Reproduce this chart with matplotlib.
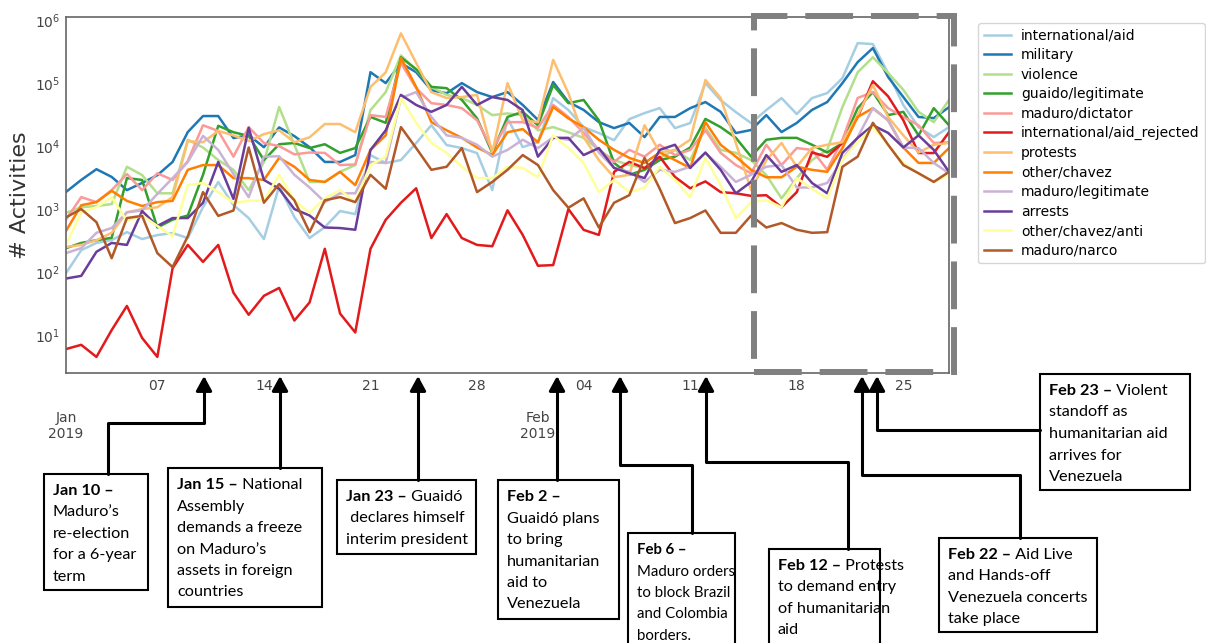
import matplotlib

matplotlib.use("Agg")
import matplotlib.dates as mdates
import matplotlib.pyplot as plt
import matplotlib.ticker as mticker
import pandas as pd
from matplotlib.patches import FancyArrowPatch, Rectangle
from matplotlib.path import Path

W, H = 1206, 643
NOTE_FONT = "Lato"

dates = pd.date_range("2019-01-01", "2019-02-28", freq="D")

# daily activity counts per topic
international_aid = [96, 223, 290, 322, 431, 334, 387, 416, 347, 1076,
                     2690, 1157, 720, 334, 2320, 746, 347, 517, 930, 833,
                     7200, 5370, 6000, 11170, 21500, 10400, 9300, 7740, 2000, 27800,
                     9640, 11570, 57800, 37300, 20000, 16100, 12400, 26800, 33400, 40100,
                     19300, 23200, 100000, 53700, 34600, 23200, 37300, 57800, 32200, 57800,
                     69400, 120000, 431000, 416000, 144000, 44800, 20000, 13900, 20000]
military = [1870, 2900, 4300, 3240, 2000, 2600, 3450, 5600, 16700, 30000,
            30000, 13400, 14900, 9600, 19800, 14400, 9600, 5600, 5600, 7200,
            149000, 100000, 208000, 149000, 77000, 69000, 100000, 72000, 60000, 72000,
            45000, 26000, 104000, 50000, 37500, 24000, 19300, 23300, 13900, 29000,
            29000, 40000, 50000, 35000, 16100, 18000, 31000, 16700, 23300, 37500,
            50000, 100000, 215000, 360000, 125000, 60000, 29000, 27800, 41500]
violence = [870, 1070, 1120, 1200, 4700, 3470, 1780, 1780, 12600, 9500,
            6000, 4200, 2000, 5600, 41700, 10500, 2700, 2700, 3900, 5000,
            37200, 72000, 275000, 162000, 87000, 65000, 58000, 45000, 31000, 33000,
            31000, 17800, 20000, 16600, 13500, 8700, 6000, 5000, 4500, 6500,
            8700, 6000, 19500, 8700, 7800, 6000, 3470, 1480, 3100, 6000,
            8700, 41700, 148000, 257000, 145000, 78000, 35000, 24000, 54000]
guaido_legitimate = [240, 290, 320, 350, 3100, 2900, 510, 680, 790, 3500,
                     21000, 16600, 14500, 6000, 10700, 11200, 9300, 10700, 7800, 9300,
                     29000, 23400, 257000, 166000, 87000, 83000, 54000, 27500, 7800, 29000,
                     35000, 21400, 93000, 48000, 54000, 25700, 5400, 3500, 4200, 6000,
                     6800, 9500, 27000, 20000, 13500, 6800, 12600, 13500, 13500, 10500,
                     7900, 11200, 40000, 72000, 31000, 35000, 14800, 40000, 21400]
maduro_dictator = [680, 1550, 1290, 2000, 3600, 2000, 3700, 2900, 5800, 21400,
                   17400, 6800, 20000, 11200, 10000, 7400, 7900, 7800, 5000, 5100,
                   31000, 29000, 209000, 83000, 48000, 45000, 40000, 25700, 8700, 24000,
                   24000, 19500, 45000, 29000, 16200, 8700, 5600, 8700, 6800, 10500,
                   7200, 8700, 17800, 7800, 5000, 3700, 10500, 5000, 9300, 8700,
                   4200, 12600, 58000, 72000, 40000, 29000, 21400, 11200, 11500]
aid_rejected = [6, 7, 4.5, 12, 29, 9, 4.5, 115, 270, 145,
                270, 47, 21, 42, 56, 17, 33, 234, 22, 11,
                234, 676, 1260, 2140, 347, 832, 347, 270, 257, 955,
                389, 126, 129, 1000, 468, 389, 3890, 5620, 4470, 6760,
                3240, 2140, 2750, 1860, 1780, 1620, 1660, 1070, 1860, 7940,
                6760, 11200, 28800, 107000, 61700, 25700, 7760, 7760, 16600]
protests = [250, 270, 320, 420, 890, 1000, 1070, 1550, 12000, 11500,
            17400, 14800, 12000, 15500, 17800, 11500, 13800, 22400, 22400, 16600,
            87000, 148000, 617000, 209000, 72000, 58000, 60000, 65000, 7900, 100000,
            25700, 24000, 234000, 69000, 13800, 6000, 3200, 3500, 21400, 7900,
            8700, 12600, 112000, 58000, 11200, 2000, 6000, 11200, 4700, 9300,
            10500, 11500, 31000, 93000, 29000, 14800, 7900, 10500, 11200]
other_chavez = [450, 1150, 1290, 1950, 1350, 1120, 1290, 1350, 4200, 5000,
                5000, 3100, 3100, 2900, 6500, 4700, 2900, 2700, 3900, 2400,
                8700, 14800, 251000, 87000, 24000, 17800, 13500, 9500, 7200, 16600,
                18600, 11500, 41700, 27500, 20000, 12600, 8700, 6500, 5400, 7900,
                6000, 4500, 24000, 10500, 6800, 4200, 3200, 3200, 4700, 4200,
                3900, 9300, 29000, 40000, 25700, 9500, 5400, 5400, 9300]
maduro_legitimate = [200, 240, 420, 500, 890, 950, 1740, 3100, 5600, 14500,
                     8700, 3600, 1550, 6800, 6900, 3500, 2200, 1290, 1780, 1780,
                     5600, 5400, 58000, 72000, 29000, 14800, 13500, 10500, 6800, 8700,
                     12600, 9300, 13800, 12600, 19500, 7900, 4500, 3900, 2700, 4200,
                     3900, 4700, 7800, 4700, 2700, 3500, 4700, 5000, 2200, 2200,
                     2600, 6000, 13800, 40000, 25700, 9500, 9300, 5400, 3700]
arrests = [79, 87, 210, 290, 270, 930, 540, 720, 720, 1260,
           5600, 1450, 19500, 2900, 2100, 1000, 790, 510, 500, 470,
           8700, 17800, 65000, 45000, 35000, 45000, 87000, 45000, 60000, 54000,
           37200, 6800, 13500, 13500, 7200, 9300, 4500, 3700, 3100, 8700,
           10500, 4500, 7900, 4200, 1780, 2700, 7200, 3900, 5000, 2600,
           1780, 7800, 13500, 21400, 16200, 9500, 14800, 8700, 3900]
other_chavez_anti = [270, 890, 1070, 1550, 650, 790, 540, 370, 2400, 2600,
                     1860, 1260, 1350, 1380, 3500, 1380, 870, 1480, 2000, 1290,
                     5000, 6800, 58000, 23400, 11200, 7800, 4700, 3100, 3100, 4700,
                     4500, 3200, 14800, 9300, 5400, 1860, 2900, 1860, 2200, 4700,
                     2900, 1550, 6500, 2400, 720, 1290, 1380, 1070, 3100, 2100,
                     1480, 6000, 11500, 20000, 10500, 5400, 3700, 2700, 3500]
maduro_narco = [740, 1000, 620, 166, 720, 780, 200, 120, 370, 1860,
                780, 950, 9500, 1260, 2500, 1380, 430, 1380, 1550, 1290,
                3500, 2100, 20000, 9300, 4200, 4700, 9300, 1860, 2700, 4200,
                7200, 5000, 2000, 1050, 1480, 510, 1260, 1660, 6500, 2100,
                600, 720, 950, 420, 420, 790, 510, 600, 470, 420,
                430, 4700, 6800, 23400, 10500, 5000, 3700, 2700, 3900]

series = [
    ("international/aid", international_aid),
    ("military", military),
    ("violence", violence),
    ("guaido/legitimate", guaido_legitimate),
    ("maduro/dictator", maduro_dictator),
    ("international/aid_rejected", aid_rejected),
    ("protests", protests),
    ("other/chavez", other_chavez),
    ("maduro/legitimate", maduro_legitimate),
    ("arrests", arrests),
    ("other/chavez/anti", other_chavez_anti),
    ("maduro/narco", maduro_narco),
]

# timeline call-outs: box (left, top, right, bottom) in pixels, bold head,
# rest of the first line, following lines, connector to the axis
notes = [
    dict(box=(44, 474, 148, 590), head="Jan 10 –", tail="",
         lines=["Maduro’s", "re-election", "for a 6-year", "term"],
         path=[(108, 474), (108, 423), (204, 423), (204, 376)]),
    dict(box=(168, 468, 322, 607), head="Jan 15 –", tail=" National",
         lines=["Assembly", "demands a freeze", "on Maduro’s", "assets in foreign", "countries"],
         path=[(280, 468), (280, 376)]),
    dict(box=(337, 480, 476, 554), head="Jan 23 –", tail=" Guaidó",
         lines=[" declares himself", "interim president"],
         path=[(418, 480), (418, 376)]),
    dict(box=(498, 480, 619, 619), head="Feb 2 –", tail="",
         lines=["Guaidó plans", "to bring", "humanitarian", "aid to", "Venezuela"],
         path=[(557, 480), (557, 376)]),
    dict(box=(628, 533, 735, 670), head="Feb 6 –", tail="", size=10.8,
         lines=["Maduro orders", "to block Brazil", "and Colombia", "borders."],
         path=[(692, 533), (692, 465), (620, 465), (620, 376)]),
    dict(box=(769, 549, 880, 670), head="Feb 12 –", tail=" Protests",
         lines=["to demand entry", "of humanitarian", "aid"],
         path=[(848, 549), (848, 462), (706, 462), (706, 376)]),
    dict(box=(939, 538, 1097, 632), head="Feb 22 –", tail=" Aid Live",
         lines=["and Hands-off", "Venezuela concerts", "take place"],
         path=[(1020, 538), (1020, 475), (862, 475), (862, 376)]),
    dict(box=(1040, 374, 1190, 490), head="Feb 23 –", tail=" Violent",
         lines=["standoff as", "humanitarian aid", "arrives for", "Venezuela"],
         path=[(1040, 430), (877, 430), (877, 376)]),
]


def fx(x):
    return x / W


def fy(y):
    return 1 - y / H


fig = plt.figure(figsize=(W / 100, H / 100), dpi=100)
ax = fig.add_axes([fx(66), fy(373), (949 - 66) / W, (373 - 17) / H])

colours = plt.get_cmap("Paired").colors
for (name, values), colour in zip(series, colours):
    ax.plot(dates, values, color=colour, lw=1.8, label=name)

ax.set_yscale("log")
ax.set_ylim(2.5, 1.12e6)
ax.set_xlim(dates[0], dates[-1])
ax.yaxis.set_major_locator(mticker.LogLocator(base=10, numticks=10))
ax.yaxis.set_minor_locator(mticker.NullLocator())
ax.xaxis.set_major_locator(mdates.MonthLocator())
ax.xaxis.set_major_formatter(mdates.DateFormatter("\n\n%b\n%Y"))
ax.xaxis.set_minor_locator(mdates.WeekdayLocator(byweekday=mdates.MO))
ax.xaxis.set_minor_formatter(mdates.DateFormatter("%d"))
ax.tick_params(which="both", length=0, labelsize=10, colors="#444444", pad=4)
for spine in ax.spines.values():
    spine.set_color("#666666")
    spine.set_linewidth(1.2)

ax.set_ylabel("# Activities", fontsize=16, color="#333333")
ax.yaxis.set_label_coords((30 - 66) / 883, 0.5)

ax.legend(loc="upper left", bbox_to_anchor=((978 - 66) / 883, (373 - 23) / 356),
          borderaxespad=0, fontsize=10, labelspacing=0.4, handlelength=2.0,
          handletextpad=0.7, frameon=True, edgecolor="#cccccc")

# highlighted final week
fig.add_artist(Rectangle((fx(754), fy(372)), (954 - 754) / W, (372 - 16) / H,
                         transform=fig.transFigure, fill=False, ec="#808080",
                         lw=4.3, ls=(0, (8, 3))))

renderer = fig.canvas.get_renderer()
for n in notes:
    text_kw = dict(family=NOTE_FONT, fontsize=n.get("size", 11.7), va="center",
                   ha="left", color="black")
    x0, y0, x1, y1 = n["box"]
    fig.add_artist(Rectangle((fx(x0), fy(y1)), (x1 - x0) / W, (y1 - y0) / H,
                             transform=fig.transFigure, fill=False, ec="black", lw=1.5))
    tx, ty = x0 + 9, y0 + 17
    head = fig.text(fx(tx), fy(ty), n["head"], fontweight="bold", **text_kw)
    if n["tail"]:
        w = head.get_window_extent(renderer).width
        fig.text(fx(tx + w), fy(ty), n["tail"], **text_kw)
    for i, line in enumerate(n["lines"], start=1):
        fig.text(fx(tx), fy(ty + 21.5 * i), line, **text_kw)
    verts = [(fx(x), fy(y)) for x, y in n["path"]]
    fig.add_artist(FancyArrowPatch(path=Path(verts), transform=fig.transFigure,
                                   arrowstyle="-|>,head_length=0.55,head_width=0.3",
                                   mutation_scale=16, lw=2.2, color="black"))

fig.savefig("out.png", dpi=100)
